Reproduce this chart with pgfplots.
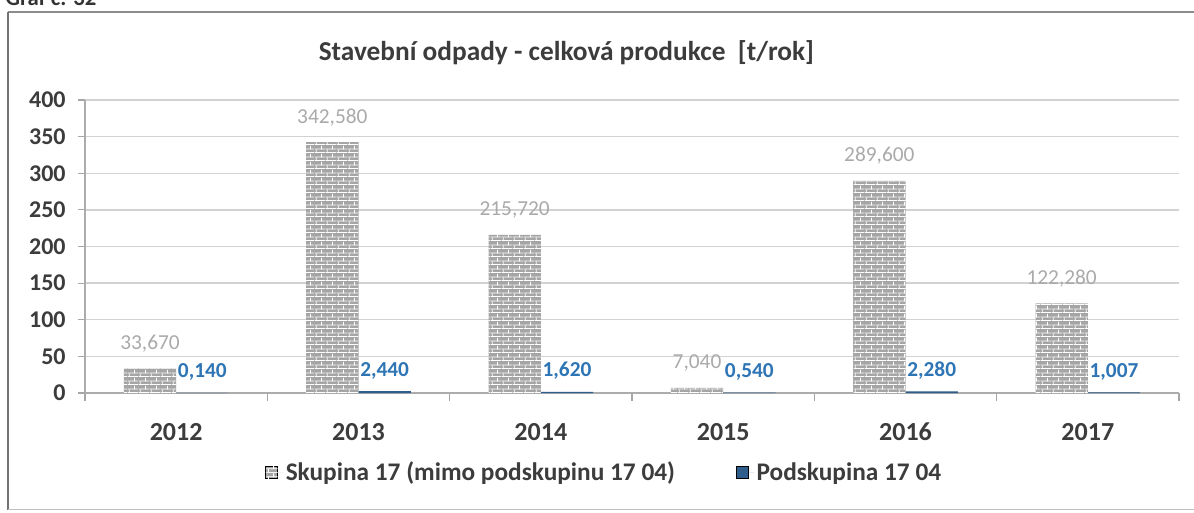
\documentclass[border=0pt]{standalone}
\usepackage{pgfplots}
\pgfplotsset{compat=1.18}
\usepackage{fontspec}
\setmainfont{Carlito}
\usetikzlibrary{patterns,patterns.meta}

\definecolor{barblue}{RGB}{47,94,140}
\definecolor{lblblue}{RGB}{46,117,182}
\definecolor{txt}{RGB}{60,60,60}
\definecolor{brickgrey}{RGB}{165,165,165}
\definecolor{lblgrey}{RGB}{170,170,170}

\tikzdeclarepattern{
  name=mybricks, type=uncolored,
  bounding box={(0pt,0pt) and (8pt,6pt)},
  tile size={(8pt,6pt)},
  code={
    \draw[line width=0.7pt] (0pt,0.35pt) -- (8pt,0.35pt);
    \draw[line width=0.7pt] (0pt,3.35pt) -- (8pt,3.35pt);
    \draw[line width=0.7pt] (1pt,0pt) -- (1pt,3pt);
    \draw[line width=0.7pt] (5pt,3pt) -- (5pt,6pt);
  }
}

\pgfplotstableread{
x  y
0  33.670
1  342.580
2  215.720
3  7.040
4  289.600
5  122.280
}\skupina
\pgfplotstableread{
x  y
0  0.140
1  2.440
2  1.620
3  0.540
4  2.280
5  1.007
}\podskupina

\begin{document}
\begin{tikzpicture}
\useasboundingbox (0,0) rectangle (895.5pt,384pt);
\fill[white] (0,0) rectangle (895.5pt,384pt);
% scanned caption, cut at the top as in the scan
\begin{scope}
\clip (0,0) rectangle (895.5pt,384pt);
\node[anchor=base west, inner sep=0pt, font=\bfseries\fontsize{17}{20}\selectfont, text=black!80] at (4pt,380pt) {Graf č. 32};
\end{scope}
% frame
\draw[black!45, line width=1.2pt] (6pt,375pt) -- (895.5pt,375pt);
\draw[black!55, line width=2pt] (6pt,1.5pt) -- (6pt,375pt);
\draw[black!25, line width=1pt] (6pt,2pt) -- (895.5pt,2pt);
\begin{axis}[
  at={(63.75pt,89.25pt)}, anchor=south west,
  scale only axis, width=820.5pt, height=219.75pt,
  xmin=-0.5, xmax=5.5, ymin=0, ymax=400,
  ytick={0,50,...,400},
  xtick={0,...,5}, xticklabels={2012,2013,2014,2015,2016,2017},
  minor xtick={-0.5,0.5,...,5.5},
  major x tick style={draw=none},
  minor x tick style={draw=gray!70, line width=0.8pt},
  major y tick style={draw=gray!70, line width=0.8pt},
  major tick length=5pt, minor tick length=6pt,
  tick align=outside,
  axis x line*=bottom, axis y line*=left,
  axis line style={draw=gray!65, line width=0.9pt, -},
  ymajorgrids, grid style={draw=gray!35, line width=1pt},
  yticklabel style={font=\bfseries\fontsize{18}{20}\selectfont, text=txt, /pgf/number format/assume math mode=true, xshift=-6pt},
  xticklabel style={font=\bfseries\fontsize{19.5}{22}\selectfont, text=txt, yshift=-14pt},
  ybar, bar width=0.287,
  title={Stavební odpady - celková produkce~ [t/rok]},
  title style={at={(axis description cs:0.44,1.135)}, anchor=center, font=\bfseries\fontsize{20.5}{24}\selectfont, text=txt},
  legend style={at={(axis description cs:0.475,-0.27)}, anchor=center, draw=none, fill=none,
    font=\bfseries\fontsize{19}{22}\selectfont, text=txt,
    /tikz/every even column/.append style={column sep=44pt}},
  legend columns=2,
  legend image code/.code={\draw[#1] (0pt,-4.5pt) rectangle (9pt,4.5pt); \path (0pt,0pt) -- (13pt,0pt);},
  clip=false,
]
\addplot[draw=none, fill=brickgrey, postaction={pattern=mybricks, pattern color=white}, bar shift=-0.1435,
  nodes near coords={\pgfmathprintnumber[fixed,fixed zerofill,precision=3,use comma,assume math mode=true]{\pgfplotspointmeta}},
  every node near coord/.append style={font=\fontsize{16}{18}\selectfont, text=lblgrey, anchor=south, inner sep=0pt, yshift=12pt}]
  table[x=x,y=y] {\skupina};
\addlegendentry{Skupina 17 (mimo podskupinu 17 04)}
\addplot[draw=none, fill=barblue, bar shift=0.1435,
  nodes near coords={\pgfmathprintnumber[fixed,fixed zerofill,precision=3,use comma,assume math mode=true]{\pgfplotspointmeta}},
  every node near coord/.append style={font=\bfseries\fontsize{16}{18}\selectfont, text=lblblue, anchor=south, inner sep=0pt, yshift=9pt}]
  table[x=x,y=y] {\podskupina};
\addlegendentry{Podskupina 17 04}
\end{axis}
\end{tikzpicture}
\end{document}
